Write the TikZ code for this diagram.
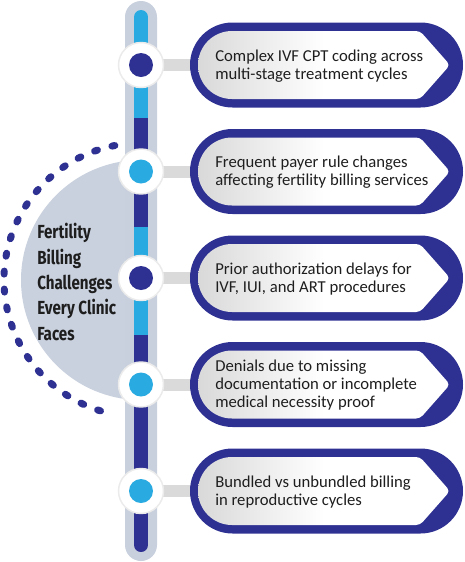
\documentclass[tikz,border=0pt]{standalone}
\usepackage{fontspec}
\setmainfont{Carlito}
\newfontfamily\titlefont{Fira Sans}[FakeStretch=0.8]
\usetikzlibrary{positioning}
\definecolor{navy}{HTML}{2E3192}
\definecolor{sky}{HTML}{29ABE2}
\definecolor{railgrey}{HTML}{C8D0DD}
\definecolor{discgrey}{HTML}{C9D1DE}
\definecolor{linkgrey}{HTML}{DADADA}
\definecolor{ink}{HTML}{1E1E1E}

\begin{document}
\begin{tikzpicture}[
  x=0.75pt, y=-0.75pt,
  every node/.style={align=left},
  ring/.style={circle, fill=white, draw=black!8, line width=1.1pt, minimum size=33.75pt, inner sep=0pt},
  navydot/.style={circle, fill=navy, minimum size=18pt, inner sep=0pt},
  skydot/.style={circle, fill=sky, minimum size=18pt, inner sep=0pt},
  link/.style={line width=9pt, linkgrey},
  dots/.style={navy, line width=5.25pt, line cap=round, dash pattern=on 2.25pt off 11.25pt},
  itemtext/.style={anchor=west, inner sep=0pt, text=ink, font=\fontsize{12.5pt}{13.5pt}\selectfont},
  heading/.style={anchor=west, inner sep=0pt, text=ink, font=\titlefont\bfseries\fontsize{14.2pt}{19.1pt}\selectfont},
  pics/frame/.style={code={
    \fill[navy, rounded corners=31.875pt] (190,-42.5) rectangle (463,42.5);
    \shade[left color=black!15, right color=white, middle color=white]
      (232,-34) {[rounded corners=3pt] -- (420,-34) -- (450,0) -- (420,34)} -- (232,34)
      arc[start angle=90, end angle=270, radius=34] -- cycle;
  }}
]
\useasboundingbox (0,0) rectangle (465,562);

%% Half disc and dotted arc behind the rail
\fill[discgrey] (141,160) arc[start angle=270, end angle=90, radius=120] -- cycle;
\draw[dots] ([shift={(259:137)}]141,280) arc[start angle=259, end angle=104, radius=137];

%% Rail
\fill[railgrey, rounded corners=12pt] (125,1) rectangle (157,561);
\begin{scope}
  \clip[rounded corners=5.25pt] (134,10) rectangle (148,552);
  \fill[sky] (134,10) rectangle (148,118);
  \fill[navy] (134,118) rectangle (148,227);
  \fill[sky] (134,227) rectangle (148,335);
  \fill[navy] (134,335) rectangle (148,552);
\end{scope}

%% Row anchors on the rail and on the frames
\coordinate (row1) at (141,65);
\coordinate (row2) at (141,171.5);
\coordinate (row3) at (141,278);
\coordinate (row4) at (141,384.5);
\coordinate (row5) at (141,491);
\coordinate (frame1) at (200,65);
\coordinate (frame2) at (200,171.5);
\coordinate (frame3) at (200,278);
\coordinate (frame4) at (200,384.5);
\coordinate (frame5) at (200,491);

%% Connectors: rail to frames
\draw[link] (row1) -- (frame1);
\draw[link] (row2) -- (frame2);
\draw[link] (row3) -- (frame3);
\draw[link] (row4) -- (frame4);
\draw[link] (row5) -- (frame5);

%% Frames
\pic at (0,65) {frame};
\pic at (0,171.5) {frame};
\pic at (0,278) {frame};
\pic at (0,384.5) {frame};
\pic at (0,491) {frame};

%% Rings with dots
\node[ring] (ring1) at (row1) {};
\node[navydot] (dot1) at (ring1) {};
\node[ring] (ring2) at (row2) {};
\node[skydot] (dot2) at (ring2) {};
\node[ring] (ring3) at (row3) {};
\node[navydot] (dot3) at (ring3) {};
\node[ring] (ring4) at (row4) {};
\node[skydot] (dot4) at (ring4) {};
\node[ring] (ring5) at (row5) {};
\node[skydot] (dot5) at (ring5) {};

%% Texts
\node[heading] (title) at (37,282) {Fertility\\Billing\\Challenges\\Every Clinic\\Faces};
\node[itemtext] (item1) at (215,66) {Complex IVF CPT coding across\\multi-stage treatment cycles};
\node[itemtext] (item2) at (215,172.5) {Frequent payer rule changes\\affecting fertility billing services};
\node[itemtext] (item3) at (215,279) {Prior authorization delays for\\IVF, IUI, and ART procedures};
\node[itemtext] (item4) at (215,385.5) {Denials due to missing\\documentation or incomplete\\medical necessity proof};
\node[itemtext] (item5) at (215,492) {Bundled vs unbundled billing\\in reproductive cycles};

\end{tikzpicture}
\end{document}
